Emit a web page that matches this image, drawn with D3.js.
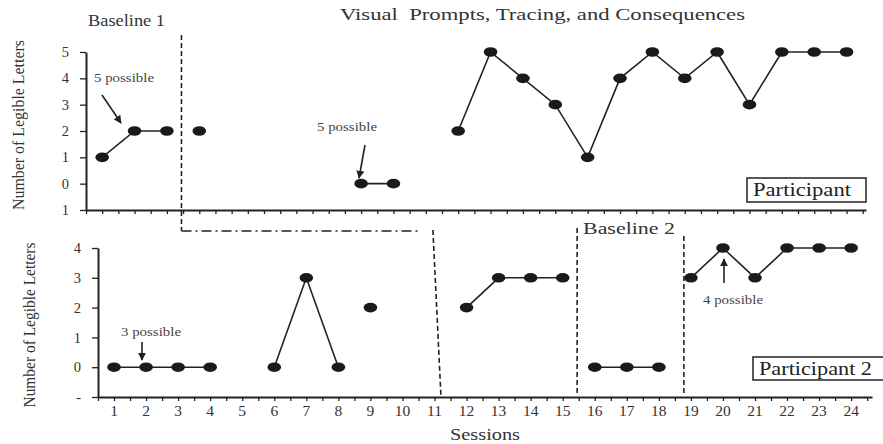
<!DOCTYPE html>
<html>
<head>
<meta charset="utf-8">
<script src="https://cdn.jsdelivr.net/npm/d3@7"></script>
<style>
  body { margin: 0; background: #fff; }
  svg { display: block; font-family: "Liberation Serif", "Times New Roman", serif; }
</style>
</head>
<body>
<svg id="chart" width="883" height="444"></svg>
<script>
// sessions 1..24
const sessions = d3.range(1, 25);

// Participant 1 (top), null = no session data
const p1Values = [1, 2, 2, 2, null, null, null, null, 0, 0, null, 2, 5, 4, 3, 1, 4, 5, 4, 5, 3, 5, 5, 5];
const p1Segments = [[1, 3], [4, 4], [9, 10], [12, 24]];

// Participant 2 (bottom)
const p2Values = [0, 0, 0, 0, null, 0, 3, 0, 2, null, null, 2, 3, 3, 3, 0, 0, 0, 3, 4, 3, 4, 4, 4];
const p2Segments = [[1, 4], [6, 8], [9, 9], [12, 15], [16, 18], [19, 24]];

const p1YTicks = [5, 4, 3, 2, 1, 0, -1];
const p1YLabels = ['5', '4', '3', '2', '1', '0', '1'];
const p2YTicks = [4, 3, 2, 1, 0, -1];
const p2YLabels = ['4', '3', '2', '1', '0', '-'];

const svg = d3.select('#chart');
const ink = '#222';

// scales
const x1 = d3.scaleLinear().domain([0.5, 24.6]).range([86, 866]);
const y1 = d3.scaleLinear().domain([-1, 5]).range([210, 52]);
const x2 = d3.scaleLinear().domain([0.5, 24.65]).range([98, 872]);
const y2 = d3.scaleLinear().domain([-1, 4]).range([397, 248]);

const halfTicks = d3.range(0.5, 24.6, 0.5);

function drawPanel(x, y, values, segments, yTicks, yLabels, showLabels) {
    const g = svg.append('g');

    // x axis (minor ticks every half session)
    const xAxis = g.append('g')
        .attr('transform', `translate(0,${y.range()[0]})`)
        .call(d3.axisBottom(x).tickValues(halfTicks).tickSize(4).tickSizeOuter(0).tickFormat(''));
    xAxis.select('.domain').attr('stroke', ink).attr('stroke-width', 2);
    xAxis.selectAll('.tick line').attr('stroke', ink).attr('stroke-width', 1.3);

    if (showLabels) {
        g.append('g').selectAll('text')
            .data(sessions)
            .enter()
            .append('text')
            .attr('x', d => x(d))
            .attr('y', y.range()[0] + 19)
            .attr('text-anchor', 'middle')
            .attr('font-size', 15.5)
            .attr('fill', '#333')
            .text(d => d);
    }

    // y axis
    const yAxis = g.append('g')
        .attr('transform', `translate(${x.range()[0]},0)`)
        .call(d3.axisLeft(y).tickValues(yTicks).tickSize(6).tickSizeOuter(0)
            .tickFormat((d, i) => yLabels[i]));
    yAxis.select('.domain').attr('stroke', ink).attr('stroke-width', 2);
    yAxis.selectAll('.tick line').attr('stroke', ink).attr('stroke-width', 1.3);
    yAxis.selectAll('.tick text')
        .attr('x', -17)
        .attr('font-size', 14.5)
        .attr('font-family', '"Liberation Serif", serif')
        .attr('fill', '#333');

    // data lines
    const line = d3.line().x(d => x(d)).y(d => y(values[d - 1]));
    segments.forEach(([a, b]) => {
        if (b > a) {
            g.append('path')
                .attr('d', line(d3.range(a, b + 1)))
                .attr('fill', 'none')
                .attr('stroke', ink)
                .attr('stroke-width', 1.6);
        }
    });

    // points
    g.append('g').selectAll('ellipse')
        .data(sessions.filter(s => values[s - 1] !== null))
        .enter()
        .append('ellipse')
        .attr('cx', d => x(d))
        .attr('cy', d => y(values[d - 1]))
        .attr('rx', 6.8)
        .attr('ry', 4.8)
        .attr('fill', '#1a1a1a');
}

drawPanel(x1, y1, p1Values, p1Segments, p1YTicks, p1YLabels, false);
drawPanel(x2, y2, p2Values, p2Segments, p2YTicks, p2YLabels, true);

// phase change lines
const dashed = sel => sel.attr('stroke', ink).attr('stroke-width', 1.6).attr('stroke-dasharray', '5,3').attr('fill', 'none');

svg.append('line').attr('x1', x1(3.45)).attr('x2', x1(3.45)).attr('y1', 35).attr('y2', 231).call(dashed);
svg.append('line').attr('x1', x1(3.45)).attr('x2', x2(10.5)).attr('y1', 231).attr('y2', 231)
    .attr('stroke', ink).attr('stroke-width', 1.5).attr('stroke-dasharray', '10,4,2,4');
svg.append('line').attr('x1', x2(10.95)).attr('x2', x2(11.2)).attr('y1', 230).attr('y2', 396).call(dashed);
svg.append('line').attr('x1', x2(15.45)).attr('x2', x2(15.45)).attr('y1', 228).attr('y2', 396).call(dashed);
svg.append('line').attr('x1', x2(18.78)).attr('x2', x2(18.78)).attr('y1', 236).attr('y2', 393).call(dashed);

// titles
svg.append('text').attr('x', 88).attr('y', 26).attr('font-size', 17).attr('fill', '#333')
    .attr('textLength', 77).attr('lengthAdjust', 'spacingAndGlyphs').text('Baseline 1');
svg.append('text').attr('x', 340).attr('y', 20).attr('font-size', 17).attr('fill', '#333')
    .attr('textLength', 405).attr('lengthAdjust', 'spacingAndGlyphs')
    .attr('xml:space', 'preserve').text('Visual  Prompts, Tracing, and Consequences');
svg.append('text').attr('x', 583).attr('y', 234).attr('font-size', 17).attr('fill', '#333')
    .attr('textLength', 92).attr('lengthAdjust', 'spacingAndGlyphs').text('Baseline 2');

// y labels
[[18, 125, 170], [29, 325, 165]].forEach(([cx, cy, len]) => {
    svg.append('text')
        .attr('transform', `translate(${cx + 6},${cy}) rotate(-90)`)
        .attr('text-anchor', 'middle')
        .attr('font-size', 17)
        .attr('fill', '#333')
        .attr('textLength', len)
        .attr('lengthAdjust', 'spacingAndGlyphs')
        .text('Number of Legible Letters');
});

svg.append('text').attr('x', 450).attr('y', 440)
    .attr('font-size', 16).attr('fill', '#333')
    .attr('textLength', 70).attr('lengthAdjust', 'spacingAndGlyphs').text('Sessions');

// participant boxes
svg.append('rect').attr('x', 747).attr('y', 178).attr('width', 119).attr('height', 24)
    .attr('fill', '#fff').attr('stroke', ink).attr('stroke-width', 1.5);
svg.append('text').attr('x', 753).attr('y', 196).attr('font-size', 18).attr('fill', '#222')
    .attr('textLength', 98).attr('lengthAdjust', 'spacingAndGlyphs').text('Participant');
svg.append('rect').attr('x', 753).attr('y', 357).attr('width', 135).attr('height', 23)
    .attr('fill', '#fff').attr('stroke', ink).attr('stroke-width', 1.5);
svg.append('text').attr('x', 759).attr('y', 375).attr('font-size', 18).attr('fill', '#222')
    .attr('textLength', 113).attr('lengthAdjust', 'spacingAndGlyphs').text('Participant 2');

// annotations
svg.append('defs').append('marker')
    .attr('id', 'arrow').attr('viewBox', '0 0 10 10').attr('refX', 9).attr('refY', 5)
    .attr('markerWidth', 5).attr('markerHeight', 5).attr('orient', 'auto')
    .append('path').attr('d', 'M0,0 L10,5 L0,10 z').attr('fill', ink);

const notes = [
    { text: '5 possible', tx: 94, ty: 82, from: [102, 95], to: [121, 123] },
    { text: '5 possible', tx: 317, ty: 131, from: [365, 145], to: [359, 178] },
    { text: '3 possible', tx: 121, ty: 336, from: [142, 342], to: [142, 360] },
    { text: '4 possible', tx: 703, ty: 304, from: [724, 283], to: [724, 259] }
];
notes.forEach(n => {
    svg.append('text').attr('x', n.tx).attr('y', n.ty).attr('font-size', 11.5)
        .attr('fill', '#444').attr('textLength', 60).attr('lengthAdjust', 'spacingAndGlyphs').text(n.text);
    svg.append('line')
        .attr('x1', n.from[0]).attr('y1', n.from[1]).attr('x2', n.to[0]).attr('y2', n.to[1])
        .attr('stroke', ink).attr('stroke-width', 1.6).attr('marker-end', 'url(#arrow)');
});
</script>
</body>
</html>
